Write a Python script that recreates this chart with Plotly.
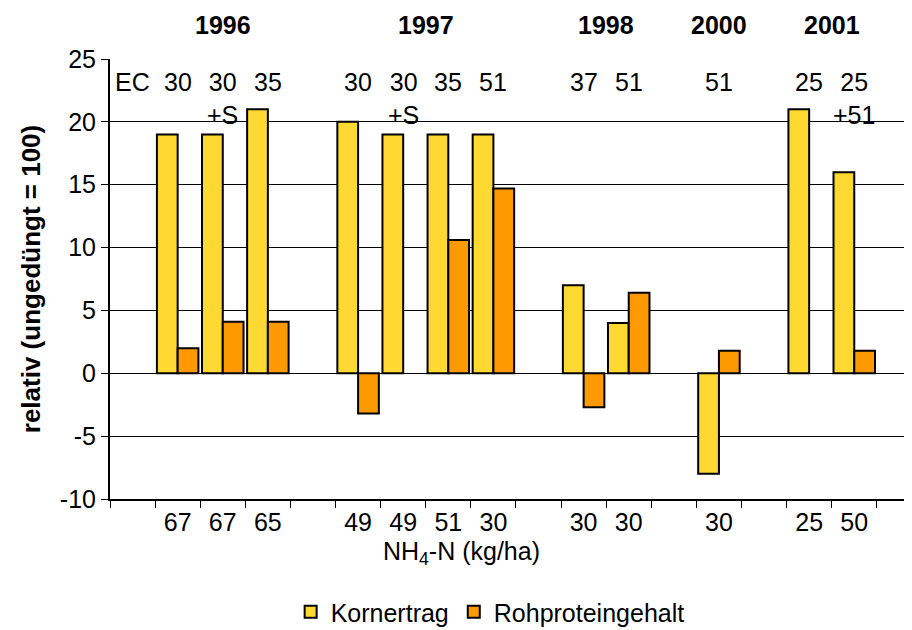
import plotly.graph_objects as go

# ---- data ----
categories = ["k0", "1996 EC30", "1996 EC30+S", "1996 EC35", "k4",
              "1997 EC30", "1997 EC30+S", "1997 EC35", "1997 EC51", "k9",
              "1998 EC37", "1998 EC51", "k12", "2000 EC51", "k14",
              "2001 EC25", "2001 EC25+51", "k17"]
nh4_labels = ["", "67", "67", "65", "", "49", "49", "51", "30", "",
              "30", "30", "", "30", "", "25", "50", ""]
ec_labels = ["EC", "30", "30<br>+S", "35", "", "30", "30<br>+S", "35", "51", "",
             "37", "51", "", "51", "", "25", "25<br>+51", ""]
kornertrag = [None, 19, 19, 21, None, 20, 19, 19, 19, None,
              7, 4, None, -8, None, 21, 16, None]
rohprotein = [None, 2, 4.1, 4.1, None, -3.2, None, 10.6, 14.7, None,
              -2.7, 6.4, None, 1.8, None, None, 1.8, None]
years = ["1996", "1997", "1998", "2000", "2001"]
year_pos = [2, 6.5, 10.5, 13, 15.5]
y_tickvals = [-10, -5, 0, 5, 10, 15, 20, 25]
y_ticktext = ["-10", "-5", "0", "5", "10", "15", "20", "25"]

FONT = "Liberation Sans, Arial, sans-serif"
YELLOW = "#FFD932"
ORANGE = "#FF9900"
FS = 25

fig = go.Figure()
fig.add_trace(go.Bar(x=categories, y=kornertrag, name="Kornertrag",
                     marker=dict(color=YELLOW, line=dict(color="black", width=2))))
fig.add_trace(go.Bar(x=categories, y=rohprotein, name="Rohproteingehalt",
                     marker=dict(color=ORANGE, line=dict(color="black", width=2))))

for cat, lab in zip(categories, ec_labels):
    if lab:
        fig.add_annotation(x=cat, xref="x", y=0.985, yref="paper", yanchor="top",
                           text=lab, showarrow=False,
                           font=dict(size=FS, color="black", family=FONT))

for yr, pos in zip(years, year_pos):
    fig.add_annotation(x=pos, xref="x", y=1.077, yref="paper", yanchor="middle",
                       text="<b>" + yr + "</b>", showarrow=False,
                       font=dict(size=FS, color="black", family=FONT))

fig.add_annotation(x=0.438, xref="paper", y=-0.123, yref="paper", yanchor="middle",
                   text="NH<sub>4</sub>-N (kg/ha)", showarrow=False,
                   font=dict(size=FS, color="black", family=FONT))

# page body adds an 8px offset, so the figure is 904x622 with shifted margins
fig.update_layout(
    width=904, height=622,
    margin=dict(l=102, r=0, t=51, b=131, autoexpand=False),
    paper_bgcolor="white", plot_bgcolor="white",
    barmode="group", bargap=0.08, bargroupgap=0,
    font=dict(family=FONT, size=FS, color="black"),
    showlegend=True,
    legend=dict(orientation="h", x=0.474, xanchor="center", y=-0.257, yanchor="middle",
                font=dict(size=FS, color="black", family=FONT),
                itemwidth=30, tracegroupgap=0, traceorder="normal"),
)
fig.update_xaxes(
    type="category", categoryorder="array", categoryarray=categories,
    range=[-0.5, 17.28], automargin=False,
    tickmode="array", tickvals=categories, ticktext=nh4_labels,
    tickson="boundaries", ticks="outside", ticklen=7, tickwidth=1, tickcolor="black",
    showline=True, linecolor="black", linewidth=2, showgrid=False,
    tickfont=dict(size=FS, color="black", family=FONT),
)
fig.update_yaxes(
    range=[-10, 25], automargin=False,
    tickmode="array", tickvals=y_tickvals, ticktext=y_ticktext,
    showgrid=True, gridcolor="black", gridwidth=1,
    zeroline=True, zerolinecolor="black", zerolinewidth=1,
    showline=True, linecolor="black", linewidth=2,
    ticks="outside", ticklen=7, tickcolor="black",
    tickfont=dict(size=FS, color="black", family=FONT),
    title=dict(text="<b>relativ (ungedüngt = 100)</b>", standoff=12,
               font=dict(size=26, color="black", family=FONT)),
)

fig.write_html("out.html")
